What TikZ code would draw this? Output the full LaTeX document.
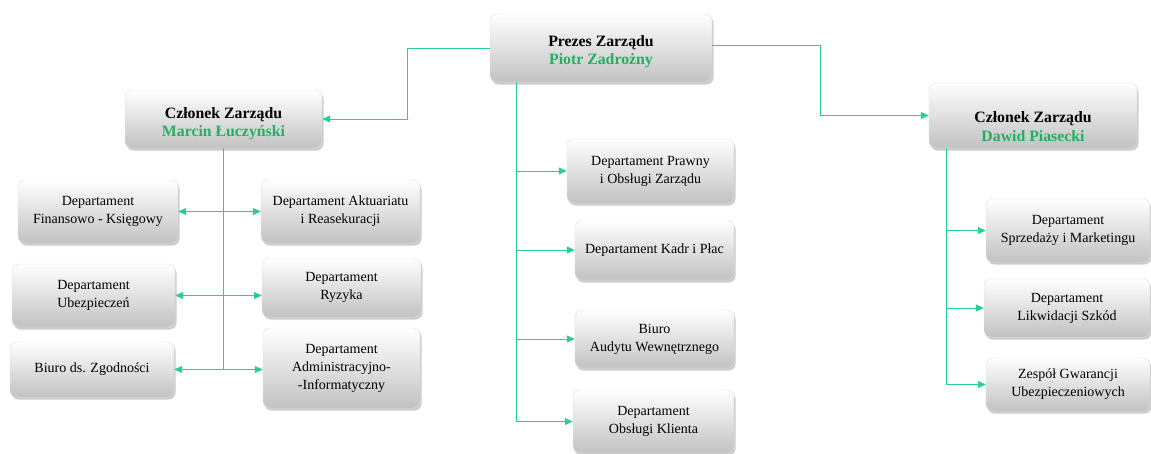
\documentclass[tikz,border=0pt]{standalone}
\usepackage{fontspec}
\setmainfont{Liberation Serif}
\usetikzlibrary{shadows,arrows.meta}
\definecolor{lineg}{RGB}{40,206,152}
\definecolor{nameg}{RGB}{34,176,96}
\tikzset{
  box/.style={rounded corners=7pt, draw=gray!25, line width=0.4pt,
    top color=white, bottom color=gray!48,
    drop shadow={shadow xshift=1.5pt, shadow yshift=-2.5pt, opacity=0.4},
    align=center, inner sep=2pt, font=\fontsize{14}{18}\selectfont},
  head/.style={box},
  headtext/.style={align=center, inner sep=0pt, font=\bfseries\fontsize{15.8}{18.5}\selectfont},
  conn/.style={draw=lineg, line width=1pt},
  arr/.style={conn, -{Triangle[length=8pt,width=7pt]}},
}
\begin{document}
\begin{tikzpicture}[x=1pt,y=-1pt]
\useasboundingbox (0,0) rectangle (1151,453);
% heads
\node[head, minimum width=222, minimum height=68] (prezes) at (601,48) {};
\node[headtext] (prezes-t) at ([yshift=-3.5pt]prezes.center) {Prezes Zarządu\\\textcolor{nameg}{Piotr Zadrożny}};
\node[head, minimum width=197, minimum height=58] (marcin) at (223.5,119) {};
\node[headtext] (marcin-t) at ([yshift=-4.5pt]marcin.center) {Członek Zarządu\\\textcolor{nameg}{Marcin Łuczyński}};
\node[head, minimum width=208, minimum height=65] (dawid) at (1033,115.5) {};
\node[headtext] (dawid-t) at ([yshift=-11pt]dawid.center) {Członek Zarządu\\\textcolor{nameg}{Dawid Piasecki}};
% left group
\node[box, minimum width=160, minimum height=63] (fin) at (98,211.5) {Departament\\Finansowo - Księgowy};
\node[box, minimum width=163, minimum height=63] (ubez) at (93.5,295.5) {Departament\\Ubezpieczeń};
\node[box, minimum width=164, minimum height=55] (zgod) at (92,369.5) {Biuro ds. Zgodności};
\node[box, minimum width=159, minimum height=63] (akt) at (340.5,211.5) {Departament Aktuariatu\\i Reasekuracji};
\node[box, minimum width=159, minimum height=59] (ryz) at (341.5,287.5) {Departament\\Ryzyka};
\node[box, minimum width=157, minimum height=80] (adm) at (341.5,368) {Departament\\Administracyjno-\\-Informatyczny};
% middle group
\node[box, minimum width=167, minimum height=64] (praw) at (650.5,171) {Departament Prawny\\i Obsługi Zarządu};
\node[box, minimum width=159, minimum height=60] (kadr) at (654.5,250) {Departament Kadr i Płac};
\node[box, minimum width=159, minimum height=58] (aud) at (654.5,339) {Biuro\\Audytu Wewnętrznego};
\node[box, minimum width=161, minimum height=63] (kli) at (653.5,421.5) {Departament\\Obsługi Klienta};
% right group
\node[box, minimum width=164, minimum height=63] (sprz) at (1068,230.5) {Departament\\Sprzedaży i Marketingu};
\node[box, minimum width=166, minimum height=58] (likw) at (1067,308) {Departament\\Likwidacji Szkód};
\node[box, minimum width=164, minimum height=53] (zesp) at (1068,384.5) {Zespół Gwarancji\\Ubezpieczeniowych};
% coordinates
\coordinate (pl) at (407,48);
\coordinate (pr) at (820,45);
\coordinate (pb) at (516,82);
\coordinate (mb) at (223,148);
\coordinate (db) at (946,148);
% top connectors
\draw[arr] (prezes.west) -- (pl) |- (marcin.east);
\draw[arr] (prezes.east |- pr) -- (pr) |- (dawid.west);
% middle spine
\draw[conn] (pb) -- (pb |- kli.west);
\foreach \n in {praw,kadr,aud,kli}{
  \draw[arr] (pb |- \n.west) -- (\n.west);
}
% left spine
\draw[conn] (mb) -- (mb |- zgod.east);
\draw[arr] (mb |- fin.east) -- (fin.east);
\draw[arr] (mb |- fin.east) -- (akt.west |- fin.east);
\draw[arr] (mb |- ubez.east) -- (ubez.east);
\draw[arr] (mb |- ubez.east) -- (ryz.west |- ubez.east);
\draw[arr] (mb |- zgod.east) -- (zgod.east);
\draw[arr] (mb |- zgod.east) -- (adm.west |- zgod.east);
% right spine
\draw[conn] (db) -- (db |- zesp.west);
\foreach \n in {sprz,likw,zesp}{
  \draw[arr] (db |- \n.west) -- (\n.west);
}
\end{tikzpicture}
\end{document}
